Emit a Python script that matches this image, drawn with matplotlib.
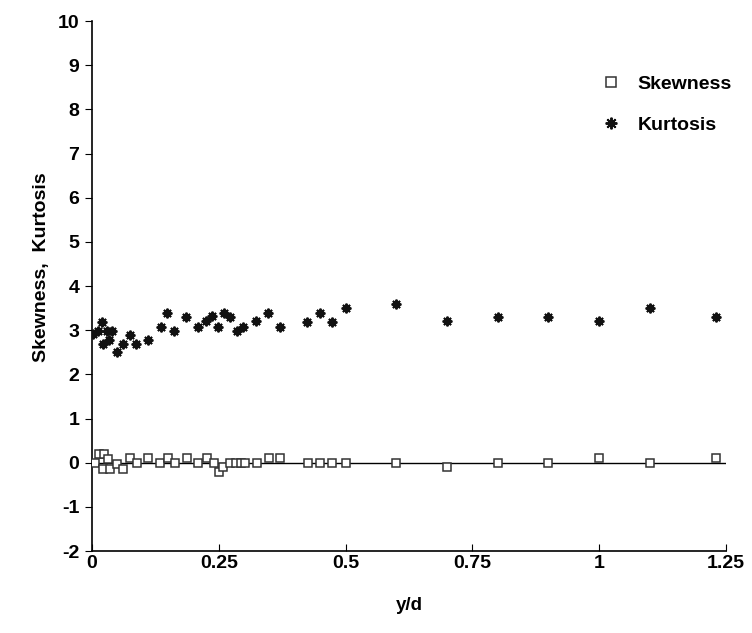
import matplotlib.pyplot as plt

plt.rcParams['font.family'] = ['Liberation Sans', 'DejaVu Sans']
plt.rcParams['font.weight'] = 'bold'
plt.rcParams['axes.unicode_minus'] = False

# Skewness (open squares)
skew_x = [0.006, 0.014, 0.024, 0.032, 0.022, 0.036, 0.050, 0.061, 0.075, 0.089,
          0.111, 0.135, 0.149, 0.164, 0.188, 0.210, 0.226, 0.240, 0.250, 0.259,
          0.273, 0.283, 0.293, 0.301, 0.325, 0.349, 0.370, 0.426, 0.450, 0.473,
          0.5, 0.6, 0.7, 0.8, 0.9, 1.0, 1.1, 1.23]
skew_y = [0.0, 0.2, 0.2, 0.08, -0.14, -0.14, -0.03, -0.14, 0.1, 0.0,
          0.1, 0.0, 0.1, 0.0, 0.1, 0.0, 0.1, 0.0, -0.22, -0.1,
          0.0, 0.0, 0.0, 0.0, 0.0, 0.1, 0.1, 0.0, 0.0, 0.0,
          0.0, 0.0, -0.1, 0.0, 0.0, 0.1, 0.0, 0.1]

# Kurtosis (stars)
kurt_x = [0.003, 0.012, 0.019, 0.022, 0.029, 0.034, 0.039, 0.049, 0.061, 0.074,
          0.087, 0.111, 0.136, 0.148, 0.161, 0.186, 0.210, 0.224, 0.236, 0.248,
          0.261, 0.273, 0.285, 0.298, 0.323, 0.348, 0.371, 0.423, 0.449, 0.473,
          0.5, 0.6, 0.7, 0.8, 0.9, 1.0, 1.1, 1.23]
kurt_y = [2.92, 2.99, 3.18, 2.69, 2.99, 2.78, 2.99, 2.50, 2.69, 2.90,
          2.69, 2.78, 3.08, 3.39, 2.99, 3.29, 3.08, 3.20, 3.31, 3.08,
          3.39, 3.29, 2.99, 3.08, 3.20, 3.39, 3.08, 3.19, 3.39, 3.19,
          3.5, 3.6, 3.2, 3.3, 3.3, 3.2, 3.5, 3.3]

x_ticks = [0, 0.25, 0.5, 0.75, 1, 1.25]
x_tick_labels = ['0', '0.25', '0.5', '0.75', '1', '1.25']
y_ticks = list(range(-2, 11))

fig = plt.figure(figsize=(7.52, 6.33), dpi=100)
ax = fig.add_axes([0.1223, 0.1295, 0.8431, 0.8373])

ax.axhline(0, color='black', lw=1.0, zorder=1)
ax.plot(skew_x, skew_y, ls='none', marker='s', ms=5.5, mfc='white',
        mec='#333333', mew=1.1, label='Skewness', zorder=3)
ax.plot(kurt_x, kurt_y, ls='none', marker=(8, 2, 0), ms=7, color='#111111',
        mew=1.4, label='Kurtosis', zorder=3)

ax.set_xlim(0, 1.25)
ax.set_ylim(-2, 10)
ax.set_xticks(x_ticks)
ax.set_xticklabels(x_tick_labels)
ax.set_yticks(y_ticks)
ax.spines['top'].set_visible(False)
ax.spines['right'].set_visible(False)
ax.spines['left'].set_linewidth(1.2)
ax.spines['bottom'].set_linewidth(1.2)
ax.tick_params(axis='x', direction='in', length=5, labelsize=14, pad=3)
ax.tick_params(axis='y', direction='out', length=5, labelsize=14, pad=4)

ax.set_xlabel('y/d', fontsize=13.5, fontweight='bold', labelpad=18)
ax.set_ylabel('Skewness,  Kurtosis', fontsize=14, fontweight='bold')
ax.yaxis.set_label_coords(-0.066, 0.535)

ax.legend(loc='upper left', bbox_to_anchor=(0.775, 0.93), frameon=False,
          fontsize=14, labelspacing=1.2, handlelength=1.0, handletextpad=0.9,
          markerscale=1.2)

fig.savefig('out.png', dpi=100)
